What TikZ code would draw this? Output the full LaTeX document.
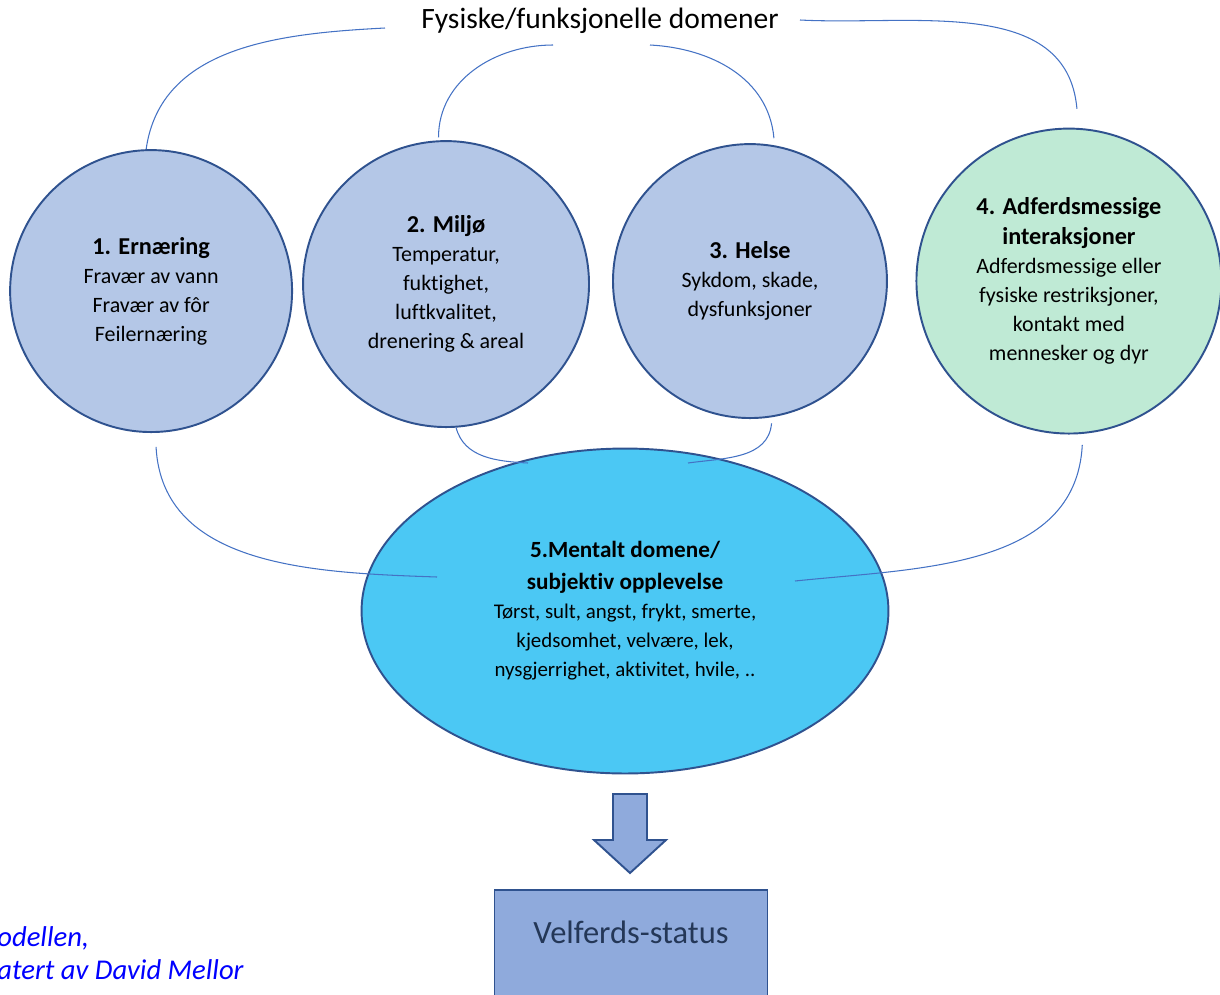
\documentclass[tikz,border=0pt]{standalone}
\usepackage{fontspec}
\setmainfont{Carlito}[Ligatures=NoCommon]
\usetikzlibrary{shapes.geometric, positioning}
\definecolor{rimblue}{HTML}{2F528F}
\definecolor{linkblue}{HTML}{4472C4}
\definecolor{domfill}{HTML}{B4C7E7}
\definecolor{behfill}{HTML}{BFEAD5}
\definecolor{mentfill}{HTML}{4BC8F4}
\definecolor{boxfill}{HTML}{8FAADC}
\definecolor{statustext}{HTML}{243757}
\newcommand{\domhead}[1]{{\fontsize{13.8}{16.5}\selectfont\bfseries #1}}
\newcommand{\menthead}[1]{{\fontsize{13.2}{16.5}\selectfont\bfseries #1}}

\begin{document}
\begin{tikzpicture}[x=0.02cm, y=-0.02cm, on grid, node distance=6cm]
      \tikzstyle{domcircle}=[circle, draw=rimblue, line width=1.1pt, fill=domfill, align=center, inner sep=0pt, font=\fontsize{12.5}{16.5}\selectfont]
      \tikzstyle{mental}=[ellipse, draw=rimblue, line width=1.1pt, fill=mentfill, align=center, minimum width=10.54cm, minimum height=6.5cm, font=\fontsize{11.9}{16.5}\selectfont]
      \tikzstyle{domlink}=[draw=linkblue, line width=0.6pt]
      \tikzstyle{statusbox}=[rectangle, draw=rimblue, line width=1.1pt, fill=boxfill, minimum width=5.46cm, minimum height=2.4cm, text=statustext, text depth=0.7cm, font=\fontsize{18.5}{22}\selectfont]
      \useasboundingbox (0,0) rectangle (1220,994);
      \clip (0,0) rectangle (1220,994);
      \node (T) at (600,21) {\fontsize{16.8}{20}\selectfont Fysiske/funksjonelle domener};
      \node[mental] (M) at (625,611) {\menthead{5.Mentalt domene/}\\[1.8pt]\menthead{subjektiv opplevelse}\\Tørst, sult, angst, frykt, smerte,\\kjedsomhet, velvære, lek,\\nysgjerrighet, aktivitet, hvile, ..};
      \node[domcircle, minimum size=5.72cm] (Mi) [above left = 6.54cm and 3.58cm of M] {\domhead{2. Miljø}\\Temperatur,\\fuktighet,\\luftkvalitet,\\drenering \& areal};
      \node[domcircle, minimum size=5.48cm] (He) [above right = 6.6cm and 2.5cm of M] {\domhead{3. Helse}\\Sykdom, skade,\\dysfunksjoner};
      \node[domcircle, minimum size=5.64cm] (Er) [left = 5.9cm of Mi, yshift=-0.14cm] {\domhead{1. Ernæring}\\Fravær av vann\\Fravær av fôr\\Feilernæring};
      \node[domcircle, minimum size=6.1cm, fill=behfill] (Ad) [right = 6.38cm of He] {\domhead{4. Adferdsmessige}\\[0.6pt]\domhead{interaksjoner}\\Adferdsmessige eller\\fysiske restriksjoner,\\kontakt med\\mennesker og dyr};
      \node[statusbox] (S) [below = 6.78cm of M, xshift=0.12cm] {Velferds-status};
      \node[align=left, inner sep=0pt, anchor=west, text=blue, font=\itshape\fontsize{16.3}{18.7}\selectfont] (Cr) at (-3,953) {odellen,\\atert av David Mellor};
      % free ends of the links
      \coordinate (tl) at (385,28);
      \coordinate (tr) at (800,20);
      \coordinate (il) at (553,45);
      \coordinate (ir) at (650,45);
      \coordinate (bl) at (528,463);
      \coordinate (br) at (688,463);
      \coordinate (ol) at (437,577);
      \coordinate (or) at (795,581);
      \path (Er.92) edge [domlink, out=82, in=183] (tl);
      \path (tr) edge [domlink, out=-3, in=95] ([yshift=0.38cm]Ad.87);
      \path ([yshift=0.06cm]Mi.93) edge [domlink, out=90, in=180] (il);
      \path (ir) edge [domlink, out=-3, in=95] ([yshift=0.14cm]He.80);
      \path (Mi.-86) edge [domlink, out=-75, in=177] (bl);
      \path ([yshift=-0.12cm]He.-81) edge [domlink, out=-95, in=8] (br);
      \path ([yshift=-0.28cm]Er.-88) edge [domlink, out=-87, in=178] (ol);
      \path ([yshift=-0.22cm]Ad.-85) edge [domlink, out=-93, in=6] (or);
      % block arrow down to the status box
      \draw[rimblue, line width=1.1pt, fill=boxfill, line join=miter] (613,794) -- (647,794) -- (647,840) -- (666,840) -- (630,873) -- (594,840) -- (613,840) -- cycle;
\end{tikzpicture}
\end{document}
